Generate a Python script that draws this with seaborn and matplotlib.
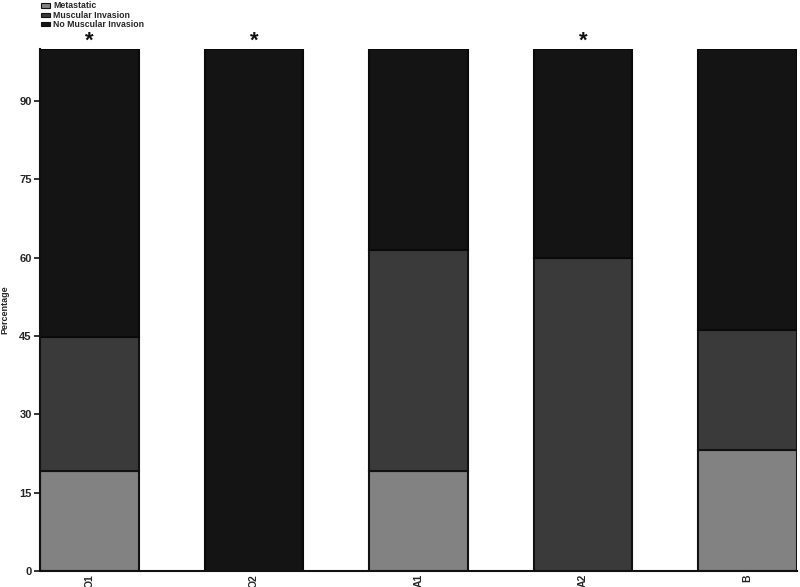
import matplotlib
matplotlib.use("Agg")
import matplotlib.pyplot as plt
import seaborn as sns
import pandas as pd
from matplotlib.patches import Patch

groups = ["O1", "O2", "A1", "A2", "B"]
metastatic = [19.2, 0.0, 19.2, 0.0, 23.1]
muscular = [25.6, 0.0, 42.3, 60.0, 23.1]
no_muscular = [55.2, 100.0, 38.5, 40.0, 53.8]
significant = ["O1", "O2", "A2"]
series_names = ["Metastatic", "Muscular Invasion", "No Muscular Invasion"]
colors = ["#828282", "#3a3a3a", "#141414"]
yticks = [0, 15, 30, 45, 60, 75, 90]

sns.set_theme(style="white")
plt.rcParams["font.family"] = ["Liberation Sans", "DejaVu Sans"]

df = pd.DataFrame({"group": groups, "met": metastatic, "mus": muscular, "nomus": no_muscular})
df["b2"] = df["met"] + df["mus"]

fig = plt.figure(figsize=(8.0, 5.87), dpi=100)
ax = fig.add_axes([0.05, 0.027, 0.946, 0.89])

sns.barplot(data=df, x="group", y="met", color=colors[0], width=0.6, ax=ax,
            edgecolor="#111111", linewidth=1.5, saturation=1)
sns.barplot(data=df, x="group", y="mus", bottom=df["met"], color=colors[1], width=0.6, ax=ax,
            edgecolor="#111111", linewidth=1.5, saturation=1)
sns.barplot(data=df, x="group", y="nomus", bottom=df["b2"], color=colors[2], width=0.6, ax=ax,
            edgecolor="#0a0a0a", linewidth=1.5, saturation=1)

ax.set_xlim(-0.3, 4.3)
ax.set_ylim(0, 100)
ax.set_yticks(yticks)
ax.set_yticklabels([str(t) for t in yticks], fontsize=8, fontweight="bold")
ax.set_xticks(range(len(groups)))
ax.set_xticklabels(groups, rotation=90, fontsize=7.5, fontweight="bold")
ax.set_xlabel("")
ax.set_ylabel("Percentage", fontsize=6.5, fontweight="bold")
ax.yaxis.set_label_coords(-0.040, 0.5)
ax.tick_params(axis="y", length=4, width=1.2, pad=2, left=True, color="#111111")
ax.tick_params(axis="x", length=0, pad=2)
for s in ["top", "right"]:
    ax.spines[s].set_visible(False)
for s in ["left", "bottom"]:
    ax.spines[s].set_color("#111111")
    ax.spines[s].set_linewidth(1.5)

for g in significant:
    ax.text(groups.index(g), 101.5, "*", ha="center", va="center", fontsize=16,
            fontweight="bold", color="#111111", clip_on=False)

handles = [Patch(facecolor=c, edgecolor="#111111", linewidth=0.8) for c in colors]
fig.legend(handles, series_names, loc="upper left", bbox_to_anchor=(0.043, 1.008),
           frameon=False, prop={"weight": "bold", "size": 6.3},
           handlelength=1.1, handleheight=0.4, handletextpad=0.35, labelspacing=0.05,
           borderpad=0.2)

fig.savefig("out.png", dpi=100)
